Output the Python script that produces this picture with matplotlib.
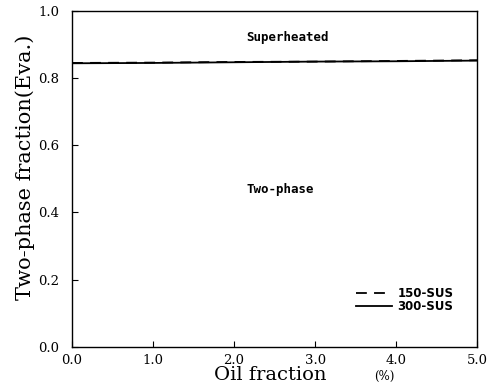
import matplotlib
matplotlib.use("Agg")
import matplotlib.pyplot as plt

# oil fraction (%) and two-phase fraction in the evaporator
oil_fraction = [0.0, 1.0, 2.0, 3.0, 4.0, 5.0]
sus150 = [0.845, 0.846, 0.848, 0.849, 0.851, 0.853]
sus300 = [0.844, 0.845, 0.847, 0.849, 0.850, 0.852]

x_ticks = [0.0, 1.0, 2.0, 3.0, 4.0, 5.0]
y_ticks = [0.0, 0.2, 0.4, 0.6, 0.8, 1.0]

SERIF = "DejaVu Serif"

fig = plt.figure(figsize=(4.9, 3.88), dpi=100, facecolor="white")
ax = fig.add_axes([0.147, 0.106, 0.827, 0.866])

ax.plot(oil_fraction, sus150, color="black", linestyle=(0, (6, 4)), linewidth=1.3, label="150-SUS")
ax.plot(oil_fraction, sus300, color="black", linestyle="-", linewidth=1.3, label="300-SUS")

ax.set_xlim(0, 5)
ax.set_ylim(0, 1)
ax.set_xticks(x_ticks)
ax.set_yticks(y_ticks)
ax.set_xticklabels([f"{v:.1f}" for v in x_ticks], fontfamily=SERIF, fontsize=9.5)
ax.set_yticklabels([f"{v:.1f}" for v in y_ticks], fontfamily=SERIF, fontsize=9.5)
ax.tick_params(direction="in", length=4, width=0.8)
ax.tick_params(axis="y", pad=9)
ax.tick_params(axis="x", pad=5)

for side in ax.spines.values():
    side.set_linewidth(1.0)

ax.text(2.66, 0.922, "Superheated", ha="center", va="center",
        fontfamily="DejaVu Sans Mono", fontsize=9, fontweight="bold")
ax.text(2.57, 0.469, "Two-phase", ha="center", va="center",
        fontfamily="DejaVu Sans Mono", fontsize=9, fontweight="bold")

ax.set_ylabel("Two-phase fraction(Eva.)", fontfamily=SERIF, fontsize=15)
ax.yaxis.set_label_coords(-0.091, 0.533)
ax.set_xlabel("Oil fraction", fontfamily=SERIF, fontsize=14)
ax.xaxis.set_label_coords(0.489, -0.058)
ax.text(0.77, -0.089, "(%)", transform=ax.transAxes, ha="center", va="center",
        fontfamily=SERIF, fontsize=8.5)

ax.legend(loc="lower right", bbox_to_anchor=(0.968, 0.07), frameon=False,
          handlelength=3.0, handletextpad=0.5, labelspacing=0.0,
          prop={"family": "DejaVu Sans", "size": 8.5, "weight": "bold"})

fig.savefig("out.png", dpi=100, facecolor="white")
